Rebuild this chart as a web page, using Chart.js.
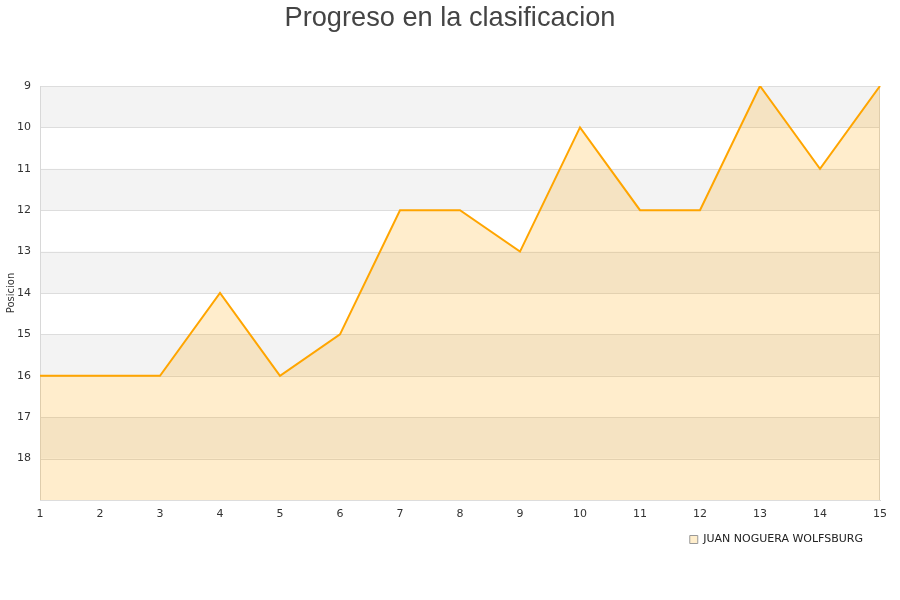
<!DOCTYPE html>
<html>
<head>
<meta charset="utf-8">
<script src="https://cdn.jsdelivr.net/npm/chart.js@4.4.0/dist/chart.umd.min.js"></script>
<style>
html,body{margin:0;padding:0;background:#fff;}
#wrap{width:900px;height:600px;}
</style>
</head>
<body>
<div id="wrap"><canvas id="c" width="900" height="600"></canvas></div>
<script>
const jornadas = ['1','2','3','4','5','6','7','8','9','10','11','12','13','14','15'];
const posiciones = [16,16,16,14,16,15,12,12,13,10,12,12,9,11,9];
const seriesName = 'JUAN NOGUERA WOLFSBURG';
const titleText = 'Progreso en la clasificacion';
const yTitle = 'Posicion';
const yMin = 9, yMax = 19;
const bandStarts = [9,11,13,15,17];

const bandPlugin = {
  id: 'bands',
  beforeDatasetsDraw(chart) {
    const {ctx, chartArea, scales} = chart;
    const y = scales.y;
    ctx.save();
    ctx.fillStyle = '#f3f3f3';
    bandStarts.forEach(s => {
      const y1 = y.getPixelForValue(s), y2 = y.getPixelForValue(s + 1);
      ctx.fillRect(chartArea.left, Math.min(y1,y2), chartArea.right - chartArea.left, Math.abs(y2 - y1));
    });
    ctx.strokeStyle = '#dddddd';
    ctx.lineWidth = 1;
    for (let v = yMin; v <= yMax; v++) {
      const p = Math.round(y.getPixelForValue(v)) + 0.5;
      ctx.beginPath(); ctx.moveTo(chartArea.left, p); ctx.lineTo(chartArea.right, p); ctx.stroke();
    }
    ctx.strokeStyle = '#d8d8d8';
    ctx.beginPath();
    ctx.moveTo(Math.round(chartArea.left) + 0.5, chartArea.top);
    ctx.lineTo(Math.round(chartArea.left) + 0.5, chartArea.bottom);
    ctx.moveTo(Math.round(chartArea.right) - 0.5, chartArea.top);
    ctx.lineTo(Math.round(chartArea.right) - 0.5, chartArea.bottom);
    ctx.stroke();
    ctx.restore();
  }
};

const titlePlugin = {
  id: 'centerTitle',
  afterDraw(chart) {
    const ctx = chart.ctx;
    ctx.save();
    ctx.fillStyle = '#444444';
    ctx.font = '27.2px "Liberation Sans"';
    ctx.textAlign = 'center';
    ctx.textBaseline = 'alphabetic';
    ctx.fillText(titleText, chart.width / 2, 26);
    ctx.restore();
  }
};

new Chart(document.getElementById('c'), {
  type: 'line',
  data: {
    labels: jornadas,
    datasets: [{
      label: seriesName,
      data: posiciones,
      borderColor: '#FFA500',
      backgroundColor: 'rgba(255,165,0,0.2)',
      borderWidth: 2,
      pointRadius: 0,
      tension: 0,
      fill: {value: yMax}
    }]
  },
  plugins: [bandPlugin, titlePlugin],
  options: {
    responsive: false,
    animation: false,
    devicePixelRatio: 1,
    layout: {padding: {left: 0, right: 20, top: 86, bottom: 45}},
    plugins: {
      title: {display: false},
      legend: {
        position: 'bottom',
        align: 'end',
        labels: {
          boxWidth: 8, boxHeight: 8,
          padding: 17,
          color: '#222222',
          font: {family: 'DejaVu Sans', size: 11},
          generateLabels(chart) {
            return [{text: seriesName, fillStyle: '#FFEECC', strokeStyle: '#999999', lineWidth: 1, datasetIndex: 0, fontColor: '#222222'}];
          }
        }
      },
      tooltip: {enabled: false}
    },
    scales: {
      x: {
        offset: false,
        grid: {display: false},
        border: {display: true, color: '#d8d8d8'},
        ticks: {color: '#333333', font: {family: 'DejaVu Sans', size: 11}, maxRotation: 0, autoSkip: false, padding: 0},
        afterFit(s) { s.height = 17; }
      },
      y: {
        reverse: true,
        min: yMin, max: yMax,
        grid: {display: false},
        border: {display: true, color: '#d8d8d8'},
        ticks: {
          stepSize: 1,
          color: '#333333',
          font: {family: 'DejaVu Sans', size: 11},
          padding: 1,
          callback: v => v === yMax ? '' : String(v)
        },
        title: {display: true, text: yTitle, color: '#333333', font: {family: 'DejaVu Sans', size: 10}, padding: {top: 5, bottom: 0}},
        afterFit(s) { s.width = 40; }
      }
    }
  }
});
</script>
</body>
</html>
